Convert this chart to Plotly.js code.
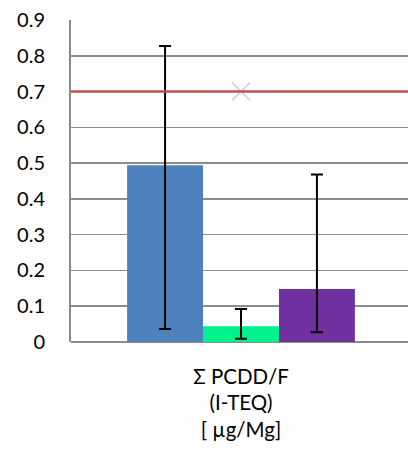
<!DOCTYPE html>
<html>
<head>
<meta charset="utf-8">
<script src="https://cdn.plot.ly/plotly-3.0.1.min.js"></script>
<style>
html,body{margin:0;padding:0;overflow:hidden;background:#fff;}
#chart{width:411px;height:459px;}
</style>
</head>
<body>
<div id="chart"></div>
<script>
var category = ['Σ PCDD/F<br>(I-TEQ)<br>[ µg/Mg]'];
var seriesNames = ['Series A', 'Series B', 'Series C'];
var seriesValues = [0.494, 0.044, 0.148];
var errLow = [0.036, 0.009, 0.027];
var errHigh = [0.827, 0.092, 0.468];
var seriesColors = ['#4F81BD', '#00F28E', '#7030A0'];
var limitValue = [0.7];
var markerValue = [0.7];

var traces = [];
for (var i = 0; i < seriesValues.length; i++) {
  traces.push({
    type: 'bar',
    name: seriesNames[i],
    x: category,
    y: [seriesValues[i]],
    marker: {color: seriesColors[i]},
    error_y: {
      type: 'data',
      symmetric: false,
      array: [errHigh[i] - seriesValues[i]],
      arrayminus: [seriesValues[i] - errLow[i]],
      color: '#000000',
      thickness: 2,
      width: 6
    },
    hoverinfo: 'y'
  });
}
traces.push({
  type: 'scatter',
  mode: 'markers',
  x: category,
  y: markerValue,
  marker: {symbol: 'x-thin', size: 18, line: {color: 'rgba(175,165,215,0.6)', width: 1.5}},
  showlegend: false
});

var layout = {
  width: 411,
  height: 459,
  margin: {l: 71, r: 0, t: 20, b: 117},
  paper_bgcolor: '#ffffff',
  plot_bgcolor: '#ffffff',
  showlegend: false,
  barmode: 'group',
  bargap: 0.33,
  bargroupgap: 0,
  font: {family: 'Lato, "Open Sans", sans-serif', color: '#000000', size: 20},
  xaxis: {
    type: 'category',
    showline: false,
    showgrid: false,
    ticks: '',
    ticklabelstandoff: 20,
    tickfont: {size: 20.5},
    fixedrange: true
  },
  yaxis: {
    range: [0, 0.9],
    dtick: 0.1,
    tick0: 0,
    showgrid: true,
    gridcolor: '#8c8c8c',
    gridwidth: 1.5,
    zeroline: true,
    zerolinecolor: '#8c8c8c',
    zerolinewidth: 2,
    showline: true,
    linecolor: '#8c8c8c',
    linewidth: 2,
    ticks: '',
    ticklabelstandoff: 20,
    tickfont: {size: 20},
    fixedrange: true
  },
  shapes: limitValue.map(function (v) {
    return {type: 'line', xref: 'paper', x0: 0, x1: 1, yref: 'y', y0: v, y1: v,
            line: {color: '#C0504D', width: 2.5}, layer: 'above'};
  })
};

Plotly.newPlot('chart', traces, layout, {displayModeBar: false, staticPlot: true});
</script>
</body>
</html>
